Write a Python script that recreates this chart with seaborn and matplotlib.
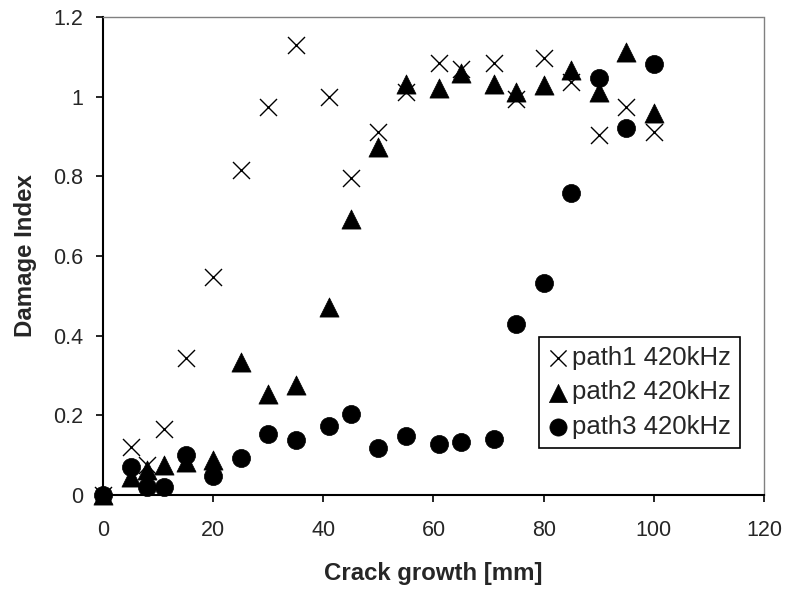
import matplotlib
matplotlib.use("Agg")
import matplotlib.pyplot as plt
import seaborn as sns
import pandas as pd

crack_mm = [0, 5, 8, 11, 15, 20, 25, 30, 35, 41, 45, 50, 55, 61, 65, 71, 75, 80, 85, 90, 95, 100]
path1 = [0, 0.12, 0.075, 0.165, 0.343, 0.548, 0.817, 0.973, 1.13, 1.0, 0.795, 0.912, 1.012,
         1.084, 1.07, 1.084, 0.995, 1.097, 1.037, 0.903, 0.974, 0.912]
path2 = [0, 0.046, 0.063, 0.075, 0.084, 0.088, 0.335, 0.253, 0.276, 0.473, 0.694, 0.874, 1.033,
         1.023, 1.06, 1.033, 1.012, 1.029, 1.066, 1.012, 1.112, 0.958]
path3 = [0, 0.071, 0.021, 0.021, 0.1, 0.048, 0.092, 0.153, 0.138, 0.173, 0.203, 0.117, 0.148,
         0.128, 0.134, 0.141, 0.429, 0.531, 0.759, 1.048, 0.922, 1.082]
series_names = ["path1 420kHz", "path2 420kHz", "path3 420kHz"]
x_ticks = [0, 20, 40, 60, 80, 100, 120]
y_ticks = [0, 0.2, 0.4, 0.6, 0.8, 1.0, 1.2]
y_tick_labels = ["0", "0.2", "0.4", "0.6", "0.8", "1", "1.2"]

sns.set_theme(style="white")
plt.rcParams["font.family"] = ["Liberation Sans", "DejaVu Sans"]

fig = plt.figure(figsize=(7.89, 5.93), dpi=100)
ax = fig.add_axes([103 / 789, 98 / 593, 661 / 789, 478 / 593])

df = pd.DataFrame({"x": crack_mm, "p1": path1, "p2": path2, "p3": path3})

sns.scatterplot(data=df, x="x", y="p1", ax=ax, marker="x", color="black", s=150,
                linewidth=1.0, label=series_names[0], clip_on=False, zorder=3)
sns.scatterplot(data=df, x="x", y="p2", ax=ax, marker="^", color="black", s=190,
                edgecolor="black", linewidth=0.5, label=series_names[1], clip_on=False, zorder=4)
sns.scatterplot(data=df, x="x", y="p3", ax=ax, marker="o", color="black", s=170,
                edgecolor="black", linewidth=0.5, label=series_names[2], clip_on=False, zorder=5)

ax.set_xlim(0, 120)
ax.set_ylim(0, 1.2)
ax.set_xticks(x_ticks)
ax.set_yticks(y_ticks)
ax.set_yticklabels(y_tick_labels)
ax.tick_params(axis="both", which="major", labelsize=15.5, direction="out", length=5,
               width=1.2, color="black", left=True, bottom=True)
ax.tick_params(axis="x", pad=13)
ax.tick_params(axis="y", pad=9)

for side in ["left", "bottom"]:
    ax.spines[side].set_color("black")
    ax.spines[side].set_linewidth(1.5)
for side in ["top", "right"]:
    ax.spines[side].set_color("#808080")
    ax.spines[side].set_linewidth(1.0)
    ax.spines[side].set_linestyle((0, (1, 1)))

ax.set_xlabel("Crack growth [mm]", fontsize=17.3, fontweight="bold", labelpad=15)
ax.set_ylabel("Damage Index", fontsize=17.3, fontweight="bold", labelpad=12)

leg = ax.legend(loc="lower right", bbox_to_anchor=(0.964, 0.098), borderaxespad=0,
                fontsize=18.5, frameon=True, fancybox=False, handlelength=0.8,
                handletextpad=0.15, borderpad=0.35, labelspacing=0.42, markerscale=0.95)
leg.get_frame().set_edgecolor("black")
leg.get_frame().set_linewidth(1.2)
leg.get_frame().set_alpha(1)

fig.savefig("out.png", dpi=100, facecolor="white")
